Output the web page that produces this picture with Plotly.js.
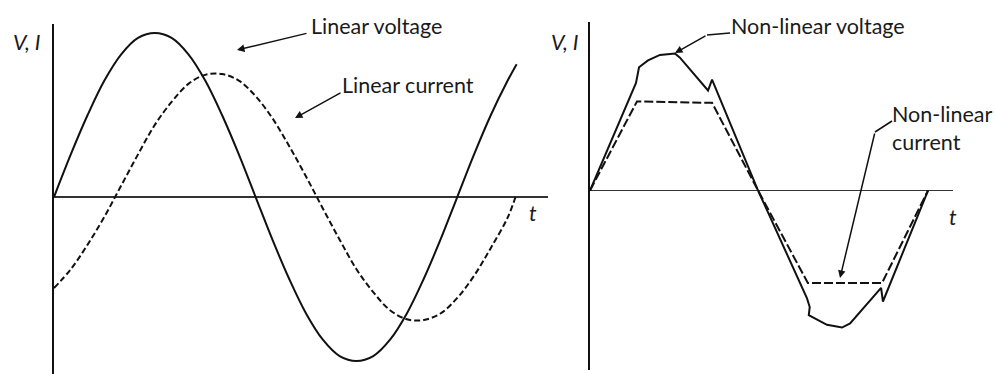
<!DOCTYPE html>
<html>
<head>
<meta charset="utf-8">
<script src="https://cdn.plot.ly/plotly-3.0.1.min.js"></script>
<style>
  html, body { margin: 0; padding: 0; background: #fff; }
  #graph { width: 995px; height: 374px; }
</style>
</head>
<body>
<div id="graph"></div>
<script>
// left panel: linear load (t in degrees, values relative to voltage peak)
const linVoltDeg = [0, 15, 30, 45, 60, 75, 90, 105, 120, 135, 150, 165, 180, 195, 210, 225, 240, 255, 270, 285, 300, 315, 330, 345, 360, 375, 390, 405, 413];
const linVoltage = [0, 0.26, 0.5, 0.71, 0.87, 0.97, 1, 0.97, 0.87, 0.71, 0.5, 0.26, 0, -0.26, -0.5, -0.71, -0.87, -0.97, -1, -0.97, -0.87, -0.71, -0.5, -0.26, 0, 0.26, 0.5, 0.71, 0.81];
const linCurDeg = [0, 15, 30, 45, 60, 75, 90, 105, 120, 135, 150, 165, 180, 195, 210, 225, 240, 255, 270, 285, 300, 315, 330, 345, 360, 375, 390, 405, 412];
const linCurrent = [-0.555, -0.44, -0.29, -0.12, 0.07, 0.26, 0.44, 0.58, 0.69, 0.745, 0.75, 0.71, 0.615, 0.48, 0.31, 0.125, -0.07, -0.26, -0.44, -0.58, -0.69, -0.745, -0.75, -0.71, -0.615, -0.48, -0.31, -0.125, 0];

// right panel: non-linear load
const nlVoltDeg = [0, 49, 52.2, 61.8, 74.5, 90.5, 95.8, 125.7, 130, 179, 231, 234, 233, 252.4, 268.4, 277, 310, 312, 360];
const nlVoltage = [0, 0.785, 0.9, 0.95, 0.99, 1, 0.97, 0.73, 0.81, 0, -0.785, -0.85, -0.91, -0.98, -1, -0.97, -0.71, -0.81, 0];
const nlCurDeg = [0, 50, 130, 179, 232, 311, 360];
const nlCurrent = [0, 0.65, 0.64, 0, -0.675, -0.675, 0];

const W = 995, H = 374;
function px(x) { return x / W; }
function py(y) { return 1 - y / H; }

const ink = '#111';
const font = { family: 'Lato, "Open Sans", sans-serif', size: 21.5, color: '#1a1a1a' };

const traces = [
    { x: linVoltDeg, y: linVoltage, xaxis: 'x', yaxis: 'y', mode: 'lines',
      line: { color: ink, width: 2, shape: 'spline' } },
    { x: linCurDeg, y: linCurrent, xaxis: 'x', yaxis: 'y', mode: 'lines',
      line: { color: ink, width: 2, shape: 'spline', dash: '6px,3px' } },
    { x: nlVoltDeg, y: nlVoltage, xaxis: 'x2', yaxis: 'y2', mode: 'lines',
      line: { color: ink, width: 2 } },
    { x: nlCurDeg, y: nlCurrent, xaxis: 'x2', yaxis: 'y2', mode: 'lines',
      line: { color: ink, width: 2, dash: '9px,3px' } }
];

function xAx(domain, range, anchor) {
    return { domain: domain, range: range, anchor: anchor, showgrid: false, zeroline: false,
             showline: false, showticklabels: false, ticks: '', fixedrange: true };
}
function yAx(domain, range, anchor, zw) {
    return { domain: domain, range: range, anchor: anchor, showgrid: false,
             zeroline: true, zerolinecolor: '#333', zerolinewidth: zw,
             showline: true, linecolor: ink, linewidth: 2,
             showticklabels: false, ticks: '', fixedrange: true };
}

// text labels
function label(text, x, y, anchor) {
    return { text: text, xref: 'paper', yref: 'paper', x: px(x), y: py(y),
             xanchor: anchor || 'left', yanchor: 'middle', align: 'left',
             showarrow: false, font: font };
}
// arrow from tail (tx,ty) to head (hx,hy), pixel coords
function arrow(hx, hy, tx, ty) {
    return { text: '', xref: 'paper', yref: 'paper', x: px(hx), y: py(hy),
             ax: tx - hx, ay: ty - hy, showarrow: true, arrowhead: 2,
             arrowsize: 1, arrowwidth: 1.5, arrowcolor: ink, standoff: 0 };
}
function stroke(x0, y0, x1, y1) {
    return { type: 'line', xref: 'paper', yref: 'paper', x0: px(x0), y0: py(y0),
             x1: px(x1), y1: py(y1), line: { color: ink, width: 1.5 } };
}

const layout = {
    width: W, height: H,
    margin: { l: 0, r: 0, t: 0, b: 0 },
    paper_bgcolor: '#fff', plot_bgcolor: 'rgba(0,0,0,0)',
    showlegend: false,
    font: font,
    xaxis: xAx([px(54), px(548)], [0, 441], 'y'),
    yaxis: yAx([0, py(24)], [-1.079, 1.055], 'x', 1.8),
    xaxis2: xAx([px(590), px(953)], [0, 386.6], 'y2'),
    yaxis2: yAx([py(370), py(22)], [-1.31, 1.23], 'x2', 1.2),
    annotations: [
        label('<i>V, I</i>', 11, 42),
        label('<i>t</i>', 533, 213, 'center'),
        label('Linear voltage', 309, 26),
        label('Linear current', 340, 85),
        label('<i>V, I</i>', 549, 42),
        label('<i>t</i>', 953, 217, 'center'),
        label('Non-linear voltage', 729, 26),
        label('Non-linear<br>current', 890, 128)
    ].concat([
        arrow(237, 50, 308, 33),
        arrow(295, 118, 342, 92),
        arrow(675, 53, 707, 35),
        arrow(840, 278, 875, 132)
    ]),
    shapes: [
        stroke(707, 35, 730, 33),
        stroke(875, 132, 892, 121)
    ]
};

Plotly.newPlot('graph', traces, layout, { staticPlot: true, displayModeBar: false });
</script>
</body>
</html>
